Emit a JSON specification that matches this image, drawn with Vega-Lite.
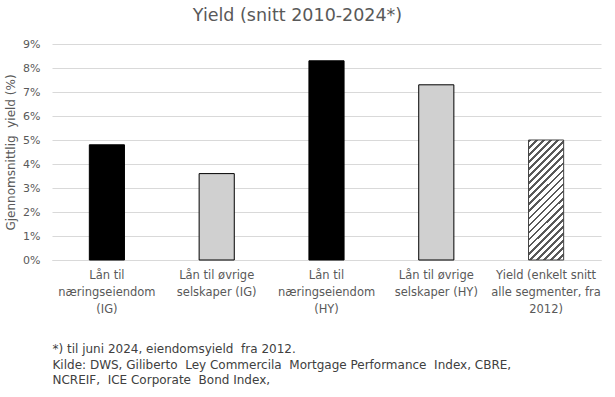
{
  "$schema": "https://vega.github.io/schema/vega-lite/v6.json",
  "width": 549,
  "height": 216,
  "autosize": {"type": "none"},
  "padding": {"left": 52, "top": 44, "right": 14, "bottom": 137},
  "background": "white",
  "config": {"view": {"stroke": null}, "font": "DejaVu Sans"},
  "title": {"text": "Yield (snitt 2010-2024*)", "fontSize": 17.5, "fontWeight": "normal", "color": "#595959", "offset": 14, "dx": -29, "anchor": "middle"},
  "data": {"values": [
    {"kategori": "Lån til|næringseiendom|(IG)", "gruppe": "næring", "yield": 0.048},
    {"kategori": "Lån til øvrige|selskaper (IG)", "gruppe": "øvrige", "yield": 0.036},
    {"kategori": "Lån til|næringseiendom|(HY)", "gruppe": "næring", "yield": 0.083},
    {"kategori": "Lån til øvrige|selskaper (HY)", "gruppe": "øvrige", "yield": 0.073},
    {"kategori": "Yield (enkelt snitt|alle segmenter, fra|2012)", "gruppe": "snitt", "yield": 0.05}
  ]},
  "encoding": {
    "x": {
      "field": "kategori", "type": "nominal", "sort": null,
      "scale": {"paddingInner": 0.68, "paddingOuter": 0.34},
      "axis": {
        "labelAngle": 0, "ticks": false, "domain": true, "domainColor": "#d9d9d9", "domainWidth": 1,
        "labelExpr": "split(datum.label, '|')", "labelLineHeight": 17, "labelPadding": 9,
        "labelFontSize": 11.5, "labelColor": "#595959", "labelOverlap": false, "labelBaseline": "top",
        "title": ["*) til juni 2024, eiendomsyield\u00a0 fra 2012.", "Kilde: DWS, Giliberto\u00a0 Ley Commercila\u00a0 Mortgage Performance\u00a0 Index, CBRE,", "NCREIF,\u00a0 ICE Corporate\u00a0 Bond Index,"],
        "titleAnchor": "start", "titleAlign": "left", "titleBaseline": "top",
        "titleFontSize": 12, "titleFontWeight": "normal", "titleColor": "#404040",
        "titleLineHeight": 15.5, "titlePadding": 29
      }
    },
    "y": {
      "field": "yield", "type": "quantitative",
      "scale": {"domain": [0, 0.09]},
      "axis": {
        "values": [0, 0.01, 0.02, 0.03, 0.04, 0.05, 0.06, 0.07, 0.08, 0.09],
        "format": ".0%", "ticks": false, "domain": false, "grid": true, "gridColor": "#d9d9d9",
        "labelColor": "#595959", "labelFontSize": 11, "labelPadding": 12,
        "title": "Gjennomsnittlig\u00a0 yield (%)", "titleFontSize": 12, "titleFontWeight": "normal",
        "titleColor": "#595959", "titlePadding": 5
      }
    }
  },
  "layer": [
    {
      "transform": [{"filter": "datum.gruppe != 'snitt'"}],
      "mark": {"type": "bar", "stroke": "black", "strokeWidth": 1},
      "encoding": {
        "color": {"field": "gruppe", "type": "nominal", "scale": {"domain": ["næring", "øvrige"], "range": ["#000000", "#d0d0d0"]}, "legend": null}
      }
    },
    {
      "transform": [{"filter": "datum.gruppe == 'snitt'"}],
      "mark": {
        "type": "bar", "stroke": "#404040", "strokeWidth": 1,
        "fill": {
          "gradient": "linear", "x1": 0, "y1": 0, "x2": 0.347, "y2": 1.19,
          "stops": [
            {"offset": 0.0, "color": "#595959"}, {"offset": 0.018, "color": "#595959"}, {"offset": 0.018, "color": "#ffffff"}, {"offset": 0.0455, "color": "#ffffff"},
            {"offset": 0.0455, "color": "#595959"}, {"offset": 0.0635, "color": "#595959"}, {"offset": 0.0635, "color": "#ffffff"}, {"offset": 0.0909, "color": "#ffffff"},
            {"offset": 0.0909, "color": "#595959"}, {"offset": 0.1089, "color": "#595959"}, {"offset": 0.1089, "color": "#ffffff"}, {"offset": 0.1364, "color": "#ffffff"},
            {"offset": 0.1364, "color": "#595959"}, {"offset": 0.1544, "color": "#595959"}, {"offset": 0.1544, "color": "#ffffff"}, {"offset": 0.1818, "color": "#ffffff"},
            {"offset": 0.1818, "color": "#595959"}, {"offset": 0.1998, "color": "#595959"}, {"offset": 0.1998, "color": "#ffffff"}, {"offset": 0.2273, "color": "#ffffff"},
            {"offset": 0.2273, "color": "#595959"}, {"offset": 0.2453, "color": "#595959"}, {"offset": 0.2453, "color": "#ffffff"}, {"offset": 0.2727, "color": "#ffffff"},
            {"offset": 0.2727, "color": "#595959"}, {"offset": 0.2907, "color": "#595959"}, {"offset": 0.2907, "color": "#ffffff"}, {"offset": 0.3182, "color": "#ffffff"},
            {"offset": 0.3182, "color": "#595959"}, {"offset": 0.3362, "color": "#595959"}, {"offset": 0.3362, "color": "#ffffff"}, {"offset": 0.3636, "color": "#ffffff"},
            {"offset": 0.3636, "color": "#595959"}, {"offset": 0.3816, "color": "#595959"}, {"offset": 0.3816, "color": "#ffffff"}, {"offset": 0.4091, "color": "#ffffff"},
            {"offset": 0.4091, "color": "#595959"}, {"offset": 0.4271, "color": "#595959"}, {"offset": 0.4271, "color": "#ffffff"}, {"offset": 0.4545, "color": "#ffffff"},
            {"offset": 0.4545, "color": "#595959"}, {"offset": 0.4725, "color": "#595959"}, {"offset": 0.4725, "color": "#ffffff"}, {"offset": 0.5, "color": "#ffffff"},
            {"offset": 0.5, "color": "#595959"}, {"offset": 0.518, "color": "#595959"}, {"offset": 0.518, "color": "#ffffff"}, {"offset": 0.5455, "color": "#ffffff"},
            {"offset": 0.5455, "color": "#595959"}, {"offset": 0.5635, "color": "#595959"}, {"offset": 0.5635, "color": "#ffffff"}, {"offset": 0.5909, "color": "#ffffff"},
            {"offset": 0.5909, "color": "#595959"}, {"offset": 0.6089, "color": "#595959"}, {"offset": 0.6089, "color": "#ffffff"}, {"offset": 0.6364, "color": "#ffffff"},
            {"offset": 0.6364, "color": "#595959"}, {"offset": 0.6544, "color": "#595959"}, {"offset": 0.6544, "color": "#ffffff"}, {"offset": 0.6818, "color": "#ffffff"},
            {"offset": 0.6818, "color": "#595959"}, {"offset": 0.6998, "color": "#595959"}, {"offset": 0.6998, "color": "#ffffff"}, {"offset": 0.7273, "color": "#ffffff"},
            {"offset": 0.7273, "color": "#595959"}, {"offset": 0.7453, "color": "#595959"}, {"offset": 0.7453, "color": "#ffffff"}, {"offset": 0.7727, "color": "#ffffff"},
            {"offset": 0.7727, "color": "#595959"}, {"offset": 0.7907, "color": "#595959"}, {"offset": 0.7907, "color": "#ffffff"}, {"offset": 0.8182, "color": "#ffffff"},
            {"offset": 0.8182, "color": "#595959"}, {"offset": 0.8362, "color": "#595959"}, {"offset": 0.8362, "color": "#ffffff"}, {"offset": 0.8636, "color": "#ffffff"},
            {"offset": 0.8636, "color": "#595959"}, {"offset": 0.8816, "color": "#595959"}, {"offset": 0.8816, "color": "#ffffff"}, {"offset": 0.9091, "color": "#ffffff"},
            {"offset": 0.9091, "color": "#595959"}, {"offset": 0.9271, "color": "#595959"}, {"offset": 0.9271, "color": "#ffffff"}, {"offset": 0.9545, "color": "#ffffff"},
            {"offset": 0.9545, "color": "#595959"}, {"offset": 0.9725, "color": "#595959"}, {"offset": 0.9725, "color": "#ffffff"}, {"offset": 1.0, "color": "#ffffff"}
          ]
        }
      },
      "encoding": {}
    }
  ]
}
